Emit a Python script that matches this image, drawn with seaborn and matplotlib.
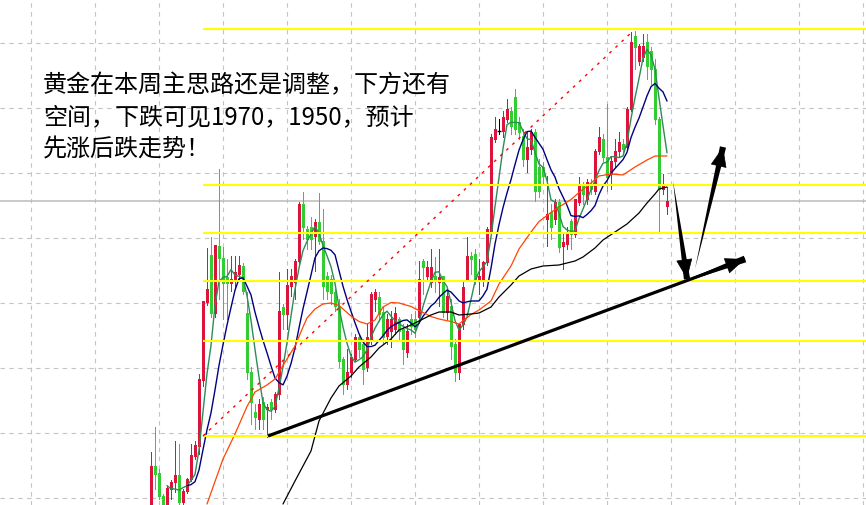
import pandas as pd
import matplotlib
matplotlib.use("Agg")
import matplotlib.pyplot as plt
import seaborn as sns
import numpy as np
from matplotlib.patches import FancyArrowPatch


# ==========================================
# Candle data (gold, one bar per candle)
# ==========================================

opens = [
    1859.2, 1877.2, 1874.4, 1865.2, 1862.0, 1868.0, 1870.8, 1873.6, 1862.8, 1867.2,
    1872.0, 1881.2, 1885.2, 1911.6, 1942.8, 1961.6, 1938.4, 1965.2, 1960.4, 1952.8,
    1950.4, 1951.6, 1954.0, 1957.2, 1938.4, 1914.8, 1898.8, 1896.0, 1902.8, 1900.0,
    1902.8, 1900.0, 1906.0, 1940.8, 1938.0, 1949.2, 1950.8, 1959.2, 1982.0, 1972.0,
    1972.8, 1969.2, 1974.8, 1967.2, 1953.2, 1952.0, 1946.8, 1941.2, 1920.0, 1910.0,
    1914.8, 1920.0, 1928.8, 1926.0, 1916.8, 1928.0, 1944.0, 1944.8, 1938.8, 1929.2,
    1931.2, 1932.0, 1936.0, 1932.0, 1922.8, 1936.0, 1936.0, 1936.8, 1959.2, 1953.2,
    1950.8, 1953.2, 1950.8, 1953.2, 1938.8, 1941.2, 1926.0, 1914.8, 1934.0, 1952.0,
    1961.2, 1962.0, 1952.0, 1951.2, 1958.8, 1971.2, 2008.0, 2011.2, 2011.2, 2016.0,
    2019.2, 2024.8, 2014.8, 2009.2, 2000.0, 2004.0, 2010.8, 1996.8, 1996.8, 1976.0,
    1978.8, 1976.0, 1982.8, 1965.2, 1966.0, 1975.2, 1970.0, 1982.8, 1989.2, 1984.0,
    1990.0, 1987.2, 2003.2, 2008.0, 2000.8, 1994.0, 1999.2, 2003.2, 2006.0, 2004.8,
    2020.0, 2049.2, 2039.2, 2040.8, 2046.8, 2043.2, 2036.0, 2016.0, 1988.0, 1981.2,
]

highs = [
    1882.8, 1892.8, 1876.0, 1866.0, 1869.2, 1871.6, 1887.2, 1886.0, 1868.0, 1872.4,
    1886.0, 1887.2, 1914.0, 1943.2, 1964.4, 1968.8, 1965.6, 1996.0, 1964.8, 1960.0,
    1961.2, 1961.2, 1961.2, 1958.4, 1946.8, 1916.8, 1902.0, 1904.0, 1904.8, 1902.0,
    1904.0, 1906.8, 1954.8, 1942.0, 1956.0, 1956.0, 1960.0, 1982.8, 1986.8, 1973.2,
    1976.8, 1976.0, 1986.4, 1980.0, 1954.8, 1953.6, 1948.0, 1944.0, 1920.8, 1924.0,
    1922.0, 1930.0, 1930.0, 1928.0, 1934.0, 1946.8, 1948.0, 1946.8, 1940.8, 1938.0,
    1939.2, 1940.8, 1936.8, 1934.0, 1934.0, 1938.0, 1939.2, 1959.2, 1960.0, 1959.2,
    1964.0, 1960.8, 1964.0, 1953.2, 1948.0, 1944.0, 1928.0, 1934.0, 1950.8, 1968.8,
    1962.8, 1964.0, 1960.0, 1959.2, 1972.8, 2010.0, 2016.8, 2016.0, 2019.2, 2024.0,
    2020.8, 2028.0, 2016.8, 2012.0, 2010.8, 2012.0, 2012.0, 2000.0, 1998.8, 1993.2,
    1982.0, 1984.0, 1984.0, 1970.8, 1972.8, 1976.0, 1984.0, 1992.8, 1990.8, 1992.0,
    1992.0, 2004.0, 2012.8, 2010.0, 2022.0, 2000.8, 2008.0, 2010.8, 2008.0, 2020.8,
    2050.8, 2051.2, 2046.0, 2050.0, 2050.0, 2044.8, 2040.0, 2016.8, 1994.0, 1988.8,
]

lows = [
    1858.0, 1868.0, 1864.0, 1860.8, 1860.8, 1864.0, 1866.8, 1861.6, 1861.6, 1866.4,
    1871.2, 1880.0, 1882.0, 1909.2, 1941.6, 1936.8, 1936.8, 1944.0, 1936.0, 1936.0,
    1947.2, 1948.0, 1952.0, 1946.0, 1912.0, 1894.0, 1892.0, 1892.0, 1892.0, 1888.8,
    1896.0, 1898.8, 1904.0, 1932.0, 1932.0, 1945.2, 1944.0, 1958.0, 1968.0, 1964.0,
    1964.0, 1955.2, 1966.0, 1944.0, 1944.0, 1942.0, 1939.2, 1916.8, 1906.0, 1908.0,
    1912.8, 1919.2, 1920.8, 1910.0, 1915.2, 1926.0, 1939.2, 1935.2, 1926.0, 1926.0,
    1924.8, 1930.0, 1928.0, 1918.0, 1920.8, 1930.0, 1928.8, 1935.2, 1946.0, 1951.2,
    1948.8, 1946.8, 1941.2, 1936.8, 1936.0, 1920.0, 1911.2, 1912.0, 1932.0, 1951.2,
    1954.0, 1950.0, 1946.0, 1949.2, 1957.6, 1970.0, 2006.8, 2010.0, 2008.8, 2014.8,
    2010.0, 2010.0, 2008.0, 1997.2, 1994.8, 2002.0, 1983.2, 1984.8, 1990.0, 1965.2,
    1968.0, 1974.0, 1962.8, 1956.0, 1964.0, 1964.0, 1968.8, 1981.6, 1982.0, 1982.0,
    1986.0, 1986.0, 2002.0, 1999.2, 1987.2, 1988.0, 1996.8, 2000.8, 2002.0, 2004.0,
    2019.2, 2036.0, 2037.6, 2039.2, 2032.0, 2030.0, 2014.0, 1971.2, 1986.0, 1978.0,
]

closes = [
    1877.2, 1874.0, 1865.2, 1862.0, 1868.4, 1870.8, 1873.6, 1862.8, 1867.2, 1872.0,
    1881.6, 1885.6, 1912.0, 1943.2, 1948.0, 1938.4, 1965.6, 1960.4, 1950.4, 1950.4,
    1952.0, 1954.8, 1957.6, 1947.2, 1914.8, 1902.8, 1896.8, 1902.0, 1896.0, 1900.8,
    1900.0, 1906.0, 1939.2, 1938.0, 1949.6, 1953.2, 1959.2, 1982.0, 1972.8, 1968.0,
    1968.0, 1974.8, 1967.2, 1949.2, 1947.2, 1946.4, 1941.2, 1919.2, 1910.0, 1914.8,
    1920.8, 1928.8, 1924.0, 1916.0, 1928.8, 1946.0, 1946.8, 1938.0, 1928.8, 1936.0,
    1936.0, 1938.4, 1931.2, 1924.0, 1931.2, 1933.2, 1932.0, 1952.0, 1956.8, 1956.8,
    1956.8, 1951.2, 1952.8, 1938.8, 1945.2, 1925.2, 1914.8, 1934.0, 1948.8, 1961.2,
    1960.0, 1951.2, 1953.2, 1958.8, 1972.0, 2008.8, 2012.0, 2011.2, 2016.8, 2020.0,
    2013.2, 2012.0, 2010.8, 2000.0, 2004.8, 2010.8, 1987.2, 1987.2, 1993.2, 1978.0,
    1972.8, 1982.8, 1964.8, 1966.8, 1970.8, 1970.0, 1984.0, 1989.2, 1986.0, 1990.8,
    1988.0, 2003.2, 2008.8, 2000.8, 1992.8, 1999.2, 2003.2, 2006.8, 2004.0, 2020.0,
    2046.8, 2044.8, 2045.2, 2045.2, 2037.2, 2036.0, 2016.0, 1988.0, 1989.2, 1983.2,
]

# slow averages (candle index, price)
ma_orange_idx = [14, 18, 21, 24, 26, 29, 31, 34, 36, 38, 39, 41, 43, 45, 47, 50,
                 52, 54, 56, 58, 60, 62, 65, 67, 70, 72, 75, 77, 80, 82, 85, 87,
                 90, 92, 95, 97, 100, 102, 105, 107, 110, 112, 115, 118, 121, 124,
                 126, 129]
ma_orange = [1862.0, 1880.0, 1890.0, 1901.0, 1906.8, 1909.6, 1912.0, 1920.0,
             1925.2, 1932.8, 1936.4, 1940.0, 1942.0, 1942.4, 1941.4, 1937.2,
             1935.0, 1934.0, 1935.6, 1940.8, 1942.6, 1942.4, 1941.0, 1939.4,
             1937.0, 1936.0, 1935.0, 1934.0, 1937.8, 1939.6, 1943.2, 1950.0,
             1957.2, 1964.0, 1970.8, 1975.0, 1978.6, 1980.8, 1983.8, 1986.6,
             1990.4, 1993.2, 1994.0, 1993.6, 1996.8, 1999.6, 2001.2, 2001.2]

ma_black_idx = [33, 36, 40, 42, 45, 47, 50, 52, 55, 57, 60, 62, 65, 67, 70, 72,
                75, 77, 80, 82, 85, 87, 90, 92, 95, 98, 102, 106, 108, 111, 113,
                116, 119, 122, 124, 126, 127, 129]
ma_black = [1862.0, 1871.2, 1883.2, 1895.2, 1904.4, 1909.2, 1913.2, 1916.8,
            1920.8, 1924.4, 1928.0, 1931.6, 1933.6, 1935.2, 1937.6, 1938.8,
            1938.8, 1937.6, 1938.0, 1938.4, 1940.8, 1944.8, 1949.6, 1953.2,
            1956.0, 1957.2, 1957.6, 1959.2, 1960.8, 1964.4, 1967.6, 1970.8,
            1974.0, 1978.4, 1982.4, 1986.0, 1988.0, 1988.8]

# support / resistance levels (yellow)
levels = [2052.0, 1989.6, 1970.4, 1951.2, 1927.2, 1889.2]
levels_from = 13

# drawn lines: red dotted channel line, black support trend line
red_line_idx = [13, 120.5]
red_line_px = [1889.2, 2051.2]
trend_idx = [29.25, 148.5]
trend_px = [1889.2, 1960.0]

# forecast arrows: (tail, tip)
down_arrow = [(130.5, 1991.2), (134.0, 1952.0)]
up_arrow = [(136.0, 1956.0), (143.0, 2004.8)]

note_lines = [
    "黄金在本周主思路还是调整，下方还有",
    "空间，下跌可见1970，1950，预计",
    "先涨后跌走势！",
]


# ==========================================
# Frame
# ==========================================

df = pd.DataFrame({
    "open": opens, "high": highs, "low": lows, "close": closes
})
df["idx"] = range(len(df))
df["ma5"] = df["close"].rolling(5).mean()
df["ma10"] = df["close"].rolling(10).mean()

sns.set_style("white")
plt.rcParams["font.family"] = ["Noto Sans CJK SC", "DejaVu Sans"]

fig = plt.figure(figsize=(8.66, 5.06), dpi=100)
ax = fig.add_axes([0, 0, 1, 1])

x_lo, x_hi = -37.75, 178.75
ax.set_xlim(x_lo, x_hi)
ax.set_ylim(1861.6, 2064.0)

ax.set_xticks(np.arange(-30, 180, 16))
ax.set_yticks(np.arange(1864.4, 2060, 26))
ax.grid(True, color="#c4c4c4", linestyle=(0, (4, 4)), linewidth=0.8)
ax.tick_params(left=False, bottom=False, labelleft=False, labelbottom=False)
for s in ax.spines.values():
    s.set_visible(False)

# current price line
ax.axhline(closes[-1], color="#c0c0c0", linewidth=1.2, zorder=1)


# ==========================================
# Candles
# ==========================================

up_c = "#dc143c"
dn_c = "#32cd32"

colors = []
for o, c in zip(df["open"], df["close"]):
    if c > o:
        colors.append(up_c)
    elif c < o:
        colors.append(dn_c)
    else:
        colors.append("black")

ax.vlines(df["idx"], df["low"], df["high"], colors=colors, linewidth=0.72,
          antialiased=False, zorder=2)
body_lo = np.minimum(df["open"], df["close"])
body_h = (df["close"] - df["open"]).abs()
ax.bar(df["idx"], body_h, bottom=body_lo, width=0.62, color=colors,
       edgecolor=colors, linewidth=0.4, antialiased=False, zorder=3)
doji = df[df["open"] == df["close"]]
ax.hlines(doji["close"], doji["idx"] - 0.4, doji["idx"] + 0.4,
          color="black", linewidth=1.0, zorder=3)


# ==========================================
# Moving averages
# ==========================================

sns.lineplot(data=df, x="idx", y="ma5", ax=ax, color="#2e8b57",
             linewidth=1.0, zorder=4)
sns.lineplot(data=df, x="idx", y="ma10", ax=ax, color="#000080",
             linewidth=1.0, zorder=4)
sns.lineplot(x=ma_orange_idx, y=ma_orange, ax=ax, color="#ff4500",
             linewidth=0.9, zorder=4)
sns.lineplot(x=ma_black_idx, y=ma_black, ax=ax, color="black",
             linewidth=0.9, zorder=4)

ax.set_xlabel("")
ax.set_ylabel("")


# ==========================================
# Levels and drawings
# ==========================================

ax.hlines(levels, levels_from, x_hi, color="#ffff00", linewidth=1.5, zorder=5)

ax.plot(red_line_idx, red_line_px, color="red", linestyle=(0, (2, 4)),
        linewidth=1.0, zorder=5)

ax.plot(trend_idx, trend_px, color="black", linewidth=2.3,
        solid_capstyle="butt", zorder=6)


def brush_arrow(tail, tip, width=0.45):
    # tapered shaft: wide at tip, pointed at tail
    shaft = FancyArrowPatch(
        posA=tip, posB=tail,
        arrowstyle=f"wedge,tail_width={width},shrink_factor=0.5",
        mutation_scale=10, color="black", linewidth=0,
        shrinkA=0, shrinkB=0, zorder=6
    )
    ax.add_patch(shaft)
    head = FancyArrowPatch(
        posA=(tail[0] + (tip[0] - tail[0]) * 0.8,
              tail[1] + (tip[1] - tail[1]) * 0.8),
        posB=tip,
        arrowstyle="-|>,head_length=1.1,head_width=0.45",
        mutation_scale=12, color="black", linewidth=0.5,
        shrinkA=0, shrinkB=0, zorder=6
    )
    ax.add_patch(head)


brush_arrow(*down_arrow)
brush_arrow(*up_arrow)
brush_arrow((trend_idx[0] + (trend_idx[1] - trend_idx[0]) * 0.85,
             trend_px[0] + (trend_px[1] - trend_px[0]) * 0.85),
            (trend_idx[1], trend_px[1]), width=0.5)


# ==========================================
# Note text
# ==========================================

baselines = [92, 124, 156]
for line, b in zip(note_lines, baselines):
    fig.text(43 / 866, 1 - b / 506, line, fontsize=17.3, color="black",
             va="baseline", ha="left",
             family=["Noto Sans CJK SC", "DejaVu Sans"], zorder=7)

fig.savefig("out.png", dpi=100)
